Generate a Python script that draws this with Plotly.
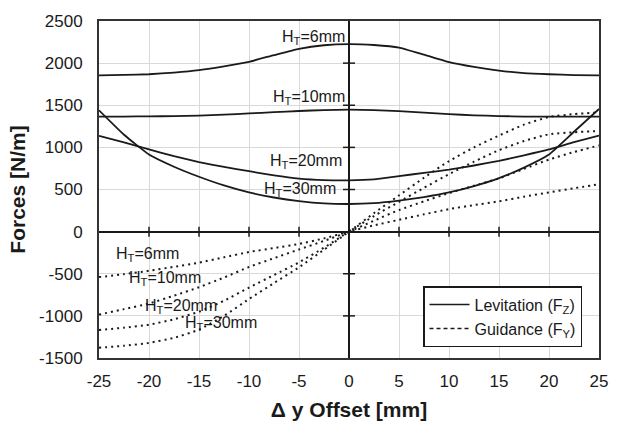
import plotly.graph_objects as go

# Lateral offset of the track (mm)
offset_mm = [-25, -22.5, -20, -17.5, -15, -12.5, -10, -7.5, -5, -2.5, 0,
             2.5, 5, 7.5, 10, 12.5, 15, 17.5, 20, 22.5, 25]

# Levitation force F_Z (N/m) for each track height H_T
lev_ht6 = [1855, 1860, 1868, 1888, 1917, 1962, 2016, 2095, 2170, 2212, 2226,
           2215, 2185, 2100, 2012, 1955, 1911, 1882, 1868, 1858, 1855]
lev_ht10 = [1365, 1366, 1368, 1371, 1376, 1388, 1403, 1418, 1432, 1443, 1447,
            1443, 1430, 1412, 1395, 1380, 1372, 1366, 1364, 1364, 1364]
lev_ht20 = [1138, 1058, 975, 895, 826, 768, 717, 668, 630, 612, 609,
            620, 659, 697, 736, 785, 840, 905, 975, 1062, 1140]
lev_ht30 = [1440, 1150, 915, 770, 651, 548, 465, 405, 362, 335, 328,
            338, 368, 410, 465, 540, 635, 760, 915, 1185, 1455]

# Guidance force F_Y (N/m) for each track height H_T
gui_ht6 = [-540, -505, -465, -418, -368, -305, -242, -195, -146, -80, 0,
           75, 140, 205, 267, 315, 360, 415, 465, 515, 562]
gui_ht10 = [-985, -920, -853, -760, -660, -545, -420, -315, -212, -110, 0,
            130, 256, 360, 457, 545, 632, 745, 855, 945, 1023]
gui_ht20 = [-1168, -1140, -1105, -1040, -950, -820, -665, -515, -365, -190, 0,
            185, 353, 520, 682, 830, 967, 1075, 1155, 1180, 1195]
gui_ht30 = [-1378, -1355, -1320, -1260, -1163, -1000, -800, -610, -423, -215, 0,
            220, 430, 640, 837, 1000, 1140, 1270, 1360, 1395, 1414]

x_ticks = [-25, -20, -15, -10, -5, 0, 5, 10, 15, 20, 25]
x_tick_labels = ["-25", "-20", "-15", "-10", "-5", "0", "5", "10", "15", "20", "25"]
y_ticks = [-1500, -1000, -500, 0, 500, 1000, 1500, 2000, 2500]
y_tick_labels = ["-1500", "-1000", "-500", "0", "500", "1000", "1500", "2000", "2500"]

# Curve labels: (text, x, y, horizontal anchor)
lev_labels = [("H<sub>T</sub>=6mm", -0.2, 2300, "right"),
              ("H<sub>T</sub>=10mm", -0.2, 1593, "right"),
              ("H<sub>T</sub>=20mm", -0.5, 837, "right"),
              ("H<sub>T</sub>=30mm", -1.1, 500, "right")]
gui_labels = [("H<sub>T</sub>=6mm", -23.5, -267, "left"),
              ("H<sub>T</sub>=10mm", -22.2, -558, "left"),
              ("H<sub>T</sub>=20mm", -20.6, -884, "left"),
              ("H<sub>T</sub>=30mm", -16.6, -1093, "left")]

FONT = "Liberation Sans, Arial, sans-serif"
INK = "#1a1a1a"

fig = go.Figure()

for ys in (lev_ht6, lev_ht10, lev_ht20, lev_ht30):
    fig.add_trace(go.Scatter(x=offset_mm, y=ys, mode="lines", showlegend=False,
                             line=dict(color=INK, width=1.8, shape="spline",
                                       smoothing=0.4)))

for ys in (gui_ht6, gui_ht10, gui_ht20, gui_ht30):
    fig.add_trace(go.Scatter(x=offset_mm, y=ys, mode="lines", showlegend=False,
                             line=dict(color=INK, width=2, dash="2px,4px",
                                       shape="spline", smoothing=0.6)))

# Legend entries
fig.add_trace(go.Scatter(x=[None], y=[None], mode="lines",
                         name="Levitation (F<sub>Z</sub>)",
                         line=dict(color=INK, width=1.5)))
fig.add_trace(go.Scatter(x=[None], y=[None], mode="lines",
                         name="Guidance (F<sub>Y</sub>)",
                         line=dict(color=INK, width=1.5, dash="4px,3px")))

for text, x, y, anchor in lev_labels + gui_labels:
    fig.add_annotation(x=x, y=y, text=text, showarrow=False, xanchor=anchor,
                       yanchor="middle", font=dict(family=FONT, size=16, color=INK))

# Crossing tick marks on the two zero lines
shapes = []
for v in x_ticks:
    if v in (-25, 0, 25):
        continue
    shapes.append(dict(type="line", xref="x", yref="y", x0=v, x1=v,
                       ysizemode="pixel", yanchor=0, y0=-5, y1=5,
                       line=dict(color=INK, width=1.5)))
for v in y_ticks:
    if v in (-1500, 0, 2500):
        continue
    shapes.append(dict(type="line", xref="x", yref="y", y0=v, y1=v,
                       xsizemode="pixel", xanchor=0, x0=-6, x1=6,
                       line=dict(color=INK, width=1.5)))

fig.update_layout(
    width=620, height=430,
    margin=dict(l=99, r=21, t=17, b=70),
    paper_bgcolor="white", plot_bgcolor="white",
    font=dict(family=FONT, size=17, color=INK),
    shapes=shapes,
    legend=dict(x=0.966, y=0.032, xanchor="right", yanchor="bottom",
                bgcolor="white", bordercolor=INK, borderwidth=1.5,
                font=dict(family=FONT, size=16, color=INK),
                itemwidth=40, tracegroupgap=0),
    xaxis=dict(range=[-25, 25], tickvals=x_ticks, ticktext=x_tick_labels,
               tickfont=dict(size=17),
               showgrid=True, gridcolor="#d9d9d9", gridwidth=1,
               zeroline=True, zerolinecolor=INK, zerolinewidth=1.5,
               showline=True, mirror=True, linecolor="#333333", linewidth=2,
               ticks="", ticklabelstandoff=7,
               title=dict(text="Δ y Offset [mm]", standoff=12,
                          font=dict(family=FONT, size=21, color=INK, weight="bold"))),
    yaxis=dict(range=[-1500, 2500], tickvals=y_ticks, ticktext=y_tick_labels,
               tickfont=dict(size=17),
               showgrid=True, gridcolor="#d9d9d9", gridwidth=1,
               zeroline=True, zerolinecolor=INK, zerolinewidth=1.5,
               showline=True, mirror=True, linecolor="#333333", linewidth=2,
               ticks="", ticklabelstandoff=11,
               title=dict(text="Forces [N/m]", standoff=8,
                          font=dict(family=FONT, size=21, color=INK, weight="bold"))),
)

fig.write_html("out.html")
